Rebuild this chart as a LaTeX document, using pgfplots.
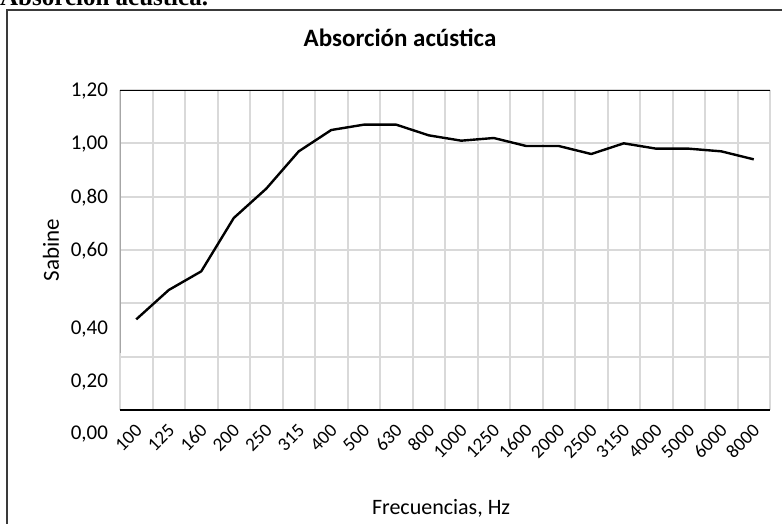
\documentclass[border=0pt]{standalone}
\usepackage{pgfplots}
\pgfplotsset{compat=1.18}
\usepackage{fontspec}
\setmainfont{Carlito}
\newfontfamily\serifb{Liberation Serif}
\definecolor{gridc}{HTML}{D9D9D9}
\definecolor{framec}{HTML}{3A3A3A}
\definecolor{leftc}{HTML}{A6A6A6}
\begin{document}
\begin{tikzpicture}[x=1pt,y=1pt]
\path[use as bounding box] (0,0) rectangle (782,-523);
\clip (0,0) rectangle (782,-523);
\fill[white] (0,0) rectangle (782,-523);
\node[anchor=base west, inner sep=0pt, font=\serifb\bfseries\fontsize{25}{27}\selectfont] at (0,-5) {Absorción acústica.};
\draw[framec, line width=2pt] (7,-10) rectangle (800,-540);
\begin{axis}[
  at={(120pt,-410pt)}, anchor=south west,
  scale only axis, width=650pt, height=320pt,
  xmin=0, xmax=20, ymin=0, ymax=1.2,
  clip=false,
  xtick={0.5,1.5,...,19.5},
  xticklabels={100,125,160,200,250,315,400,500,630,800,1000,1250,1600,2000,2500,3150,4000,5000,6000,8000},
  minor xtick={0,1,...,20},
  xminorgrids=true, xmajorgrids=false,
  ytick={0,0.2,0.4,0.6,0.8,1.0,1.2},
  yticklabels={{\raisebox{-23pt}{0,00}},{\raisebox{-24pt}{0,20}},{\raisebox{-25pt}{0,40}},{0,60},{0,80},{1,00},{1,20}},
  ymajorgrids=true,
  grid style={gridc, line width=2pt},
  minor grid style={gridc, line width=2pt},
  major tick length=0pt, minor tick length=0pt,
  axis line style={draw=none},
  /pgf/number format/assume math mode=true,
  yticklabel style={font=\fontsize{21}{23}\selectfont, anchor=base east, xshift=-8.5pt, yshift=-6.6pt},
  xticklabel style={font=\fontsize{19}{21}\selectfont, xshift=5pt, yshift=-15pt, rotate=45, anchor=east},
  title={Absorción acústica},
  title style={at={(rel axis cs:0.4308,1.11875)}, anchor=base, font=\bfseries\fontsize{25}{28}\selectfont},
  xlabel={Frecuencias, Hz},
  xlabel style={at={(rel axis cs:0.494,-0.328)}, anchor=base, font=\fontsize{22}{24}\selectfont},
  ylabel={Sabine},
  ylabel style={at={(rel axis cs:-0.1062,0.5)}, anchor=center, font=\fontsize{23}{25}\selectfont},
]
\draw[leftc, line width=1pt] (rel axis cs:0,1) -- (rel axis cs:0,0.178);
\addplot[black, line width=2.4pt, line join=round] table {
x y
0.5 0.34
1.5 0.45
2.5 0.52
3.5 0.72
4.5 0.83
5.5 0.97
6.5 1.05
7.5 1.07
8.5 1.07
9.5 1.03
10.5 1.01
11.5 1.02
12.5 0.99
13.5 0.99
14.5 0.96
15.5 1.00
16.5 0.98
17.5 0.98
18.5 0.97
19.5 0.94
};
\draw[black, line width=2.8pt] (rel axis cs:0,0) -- (rel axis cs:1,0);
\draw[black, line width=1pt] (rel axis cs:0,1) -- (rel axis cs:1,1);
\end{axis}
\end{tikzpicture}
\end{document}
